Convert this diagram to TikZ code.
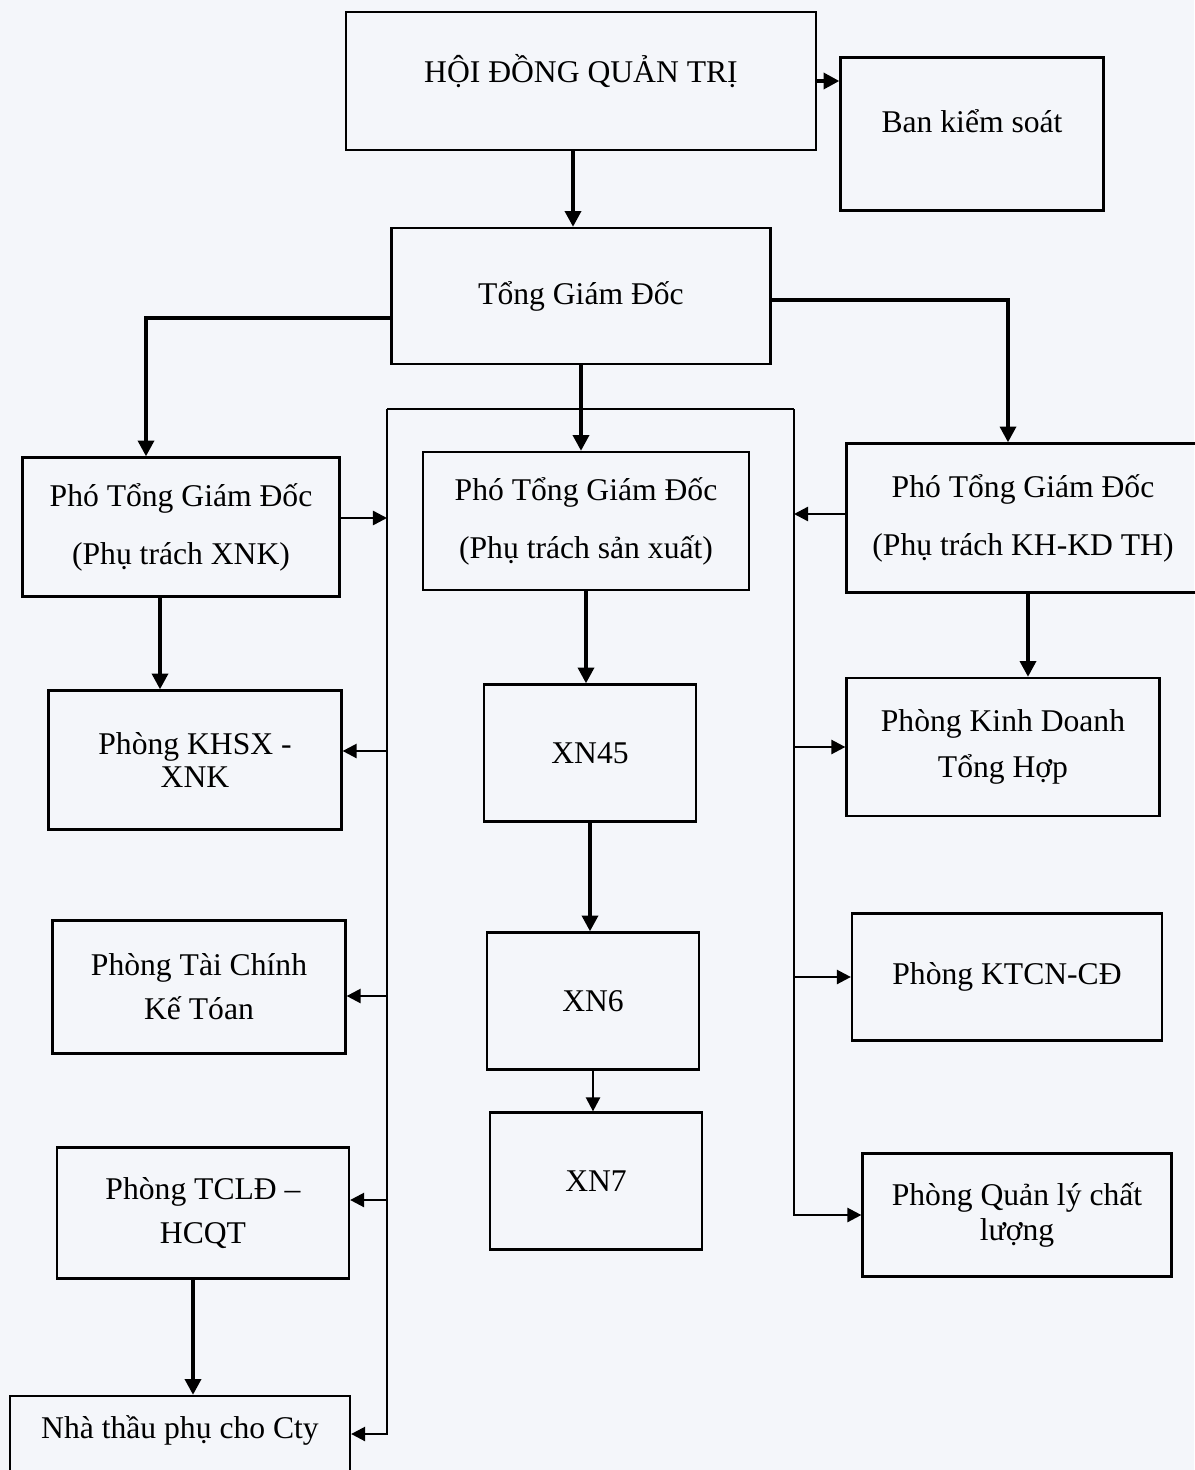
\documentclass[tikz,border=0pt]{standalone}
\usepackage{fontspec}
\setmainfont{Liberation Serif}
\usetikzlibrary{arrows.meta,positioning,calc}
\definecolor{paper}{RGB}{244,246,250}

\begin{document}
\begin{tikzpicture}[
  x=0.02cm, y=-0.02cm,
  box/.style={rectangle, draw, line width=1.3pt, align=center,
              font=\fontsize{18}{22}\selectfont, inner sep=2pt},
  arr/.style={draw, line width=2.2pt, -{Triangle[length=9pt, width=9pt]}},
  link/.style={draw, line width=1.4pt, -{Triangle[length=8pt, width=8pt]}},
  bus/.style={draw, line width=1.4pt},
]
  \fill[paper] (0,0) rectangle (1194,1470);
  \useasboundingbox (0,0) rectangle (1194,1470);

  % top levels
  \node[box, minimum width=9.4cm, minimum height=2.76cm, text height=0.45cm, text depth=0.39cm] (hdqt) at (581,81) {HỘI ĐỒNG QUẢN TRỊ};
  \node[box, minimum width=5.26cm, minimum height=3.06cm, text height=0.45cm, text depth=0.51cm] (bks) at (972,134) {Ban kiểm soát};
  \node[box, minimum width=7.58cm, minimum height=2.72cm] (tgd) at (581,296) {Tổng Giám Đốc};

  % deputies
  \node[box, minimum width=6.34cm, minimum height=2.78cm] (pxnk) at (181,527) {Phó Tổng Giám Đốc\\[11pt](Phụ trách XNK)};
  \node[box, minimum width=6.52cm, minimum height=2.76cm] (psx) at (586,521) {Phó Tổng Giám Đốc\\[11pt](Phụ trách sản xuất)};
  \node[box, minimum width=7.06cm, minimum height=2.98cm] (pkh) at (1023,518) {Phó Tổng Giám Đốc\\[11pt](Phụ trách KH-KD TH)};

  % left column
  \node[box, minimum width=5.86cm, minimum height=2.78cm] (khsx) at (195,760) {Phòng KHSX -\\[-3pt]XNK};
  \node[box, minimum width=5.86cm, minimum height=2.66cm] (tckt) at (199,987) {Phòng Tài Chính\\[3pt]Kế Tóan};
  \node[box, minimum width=5.84cm, minimum height=2.62cm] (tcld) at (203,1213) {Phòng TCLĐ –\\[3pt]HCQT};
  \node[box, minimum width=6.8cm, minimum height=1.52cm, text height=0.45cm, text depth=0.27cm] (nhathau) at (180,1434) {Nhà thầu phụ cho Cty};

  % middle column
  \node[box, minimum width=4.24cm, minimum height=2.74cm] (xn45) at (590,753) {XN45};
  \node[box, minimum width=4.24cm, minimum height=2.74cm] (xn6) at (593,1001) {XN6};
  \node[box, minimum width=4.24cm, minimum height=2.74cm] (xn7) at (596,1181) {XN7};

  % right column
  \node[box, minimum width=6.26cm, minimum height=2.76cm] (kdth) at (1003,747) {Phòng Kinh Doanh\\[4pt]Tổng Hợp};
  \node[box, minimum width=6.2cm, minimum height=2.54cm] (ktcn) at (1007,977) {Phòng KTCN-CĐ};
  \node[box, minimum width=6.18cm, minimum height=2.46cm] (qlcl) at (1017,1215) {Phòng Quản lý chất\\[-2pt]lượng};

  % main lines
  \draw[arr] (hdqt.east) -- (hdqt.east -| bks.west);
  \draw[arr] ([xshift=-0.16cm]hdqt.south) -- ([xshift=-0.16cm]hdqt.south |- tgd.north);
  \draw[arr] ([yshift=-0.44cm]tgd.west) -| ([xshift=-0.7cm]pxnk.north);
  \draw[arr] ([yshift=-0.08cm]tgd.east) -| ([xshift=-0.3cm]pkh.north);
  \draw[arr] (tgd.south) -- (tgd.south |- psx.north);
  \draw[arr] ([xshift=-0.42cm]pxnk.south) -- ([xshift=-0.42cm]pxnk.south |- khsx.north);
  \draw[arr] (psx.south) -- (psx.south |- xn45.north);
  \draw[arr] (xn45.south) -- (xn45.south |- xn6.north);
  \draw[link] (xn6.south) -- (xn6.south |- xn7.north);
  \draw[arr] ([xshift=0.1cm]pkh.south) -- ([xshift=0.1cm]pkh.south |- kdth.north);
  \draw[arr] ([xshift=-0.2cm]tcld.south) -- ([xshift=-0.2cm]tcld.south |- nhathau.north);

  % bus
  \coordinate (busl) at (387,409);
  \coordinate (busr) at (794,409);
  \draw[bus] (busl) -- (busr);
  \draw[link] (busl) |- (nhathau.east);
  \draw[link] (busr) |- (qlcl.west);
  \draw[link] ([yshift=0.18cm]pxnk.east) -- ([yshift=0.18cm]pxnk.east -| busl);
  \draw[link] ([yshift=0.08cm]pkh.west) -- ([yshift=0.08cm]pkh.west -| busr);
  \draw[link] ([yshift=0.18cm]khsx.east -| busl) -- ([yshift=0.18cm]khsx.east);
  \draw[link] ([yshift=-0.18cm]tckt.east -| busl) -- ([yshift=-0.18cm]tckt.east);
  \draw[link] ([yshift=0.26cm]tcld.east -| busl) -- ([yshift=0.26cm]tcld.east);
  \draw[link] (kdth.west -| busr) -- (kdth.west);
  \draw[link] (ktcn.west -| busr) -- (ktcn.west);
\end{tikzpicture}
\end{document}
